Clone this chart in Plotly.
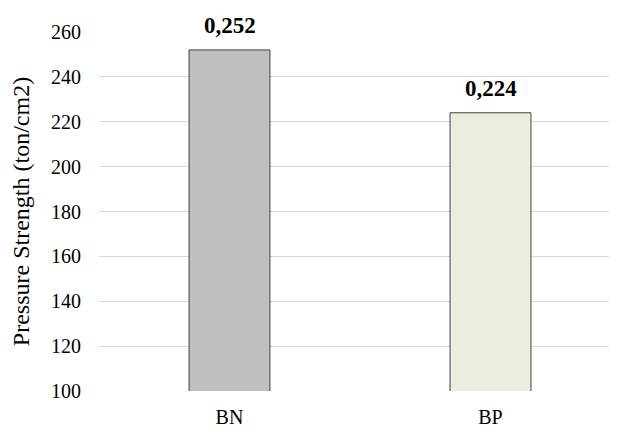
import plotly.graph_objects as go

categories = ["BN", "BP"]
values = [252, 224]
labels = ["0,252", "0,224"]
colors = ["#BFBFBF", "#EBEEDF"]
y_ticks = [100, 120, 140, 160, 180, 200, 220, 240, 260]

SERIF = "Liberation Serif, Times New Roman, serif"

fig = go.Figure(go.Bar(
    x=categories, y=values,
    marker=dict(color=colors, line=dict(color="#404040", width=1)),
    width=0.31, cliponaxis=False,
))
for c, v, t in zip(categories, values, labels):
    fig.add_annotation(x=c, y=v, text="<b>" + t + "</b>", showarrow=False,
                       yanchor="bottom", yshift=10,
                       font=dict(family=SERIF, size=23, color="#000000"))

fig.update_layout(
    width=617, height=428,
    margin=dict(l=91, r=4, t=24, b=45, autoexpand=False),
    paper_bgcolor="white", plot_bgcolor="white",
    font=dict(family=SERIF, size=18, color="#000000"),
    showlegend=False,
    xaxis=dict(showgrid=False, showline=False, ticks="", automargin=False,
               ticklabelstandoff=12,
               tickfont=dict(family=SERIF, size=20, color="#000000")),
    yaxis=dict(range=[100, 260], tickvals=y_ticks, showgrid=True, gridcolor="#D9D9D9",
               gridwidth=1, zeroline=False, showline=False, ticks="", automargin=False,
               ticklabelstandoff=17,
               title=dict(text="Pressure Strength (ton/cm2)",
                          font=dict(family=SERIF, size=24, color="#000000"), standoff=14),
               tickfont=dict(family=SERIF, size=20, color="#000000")),
)
fig.write_html("out.html")
